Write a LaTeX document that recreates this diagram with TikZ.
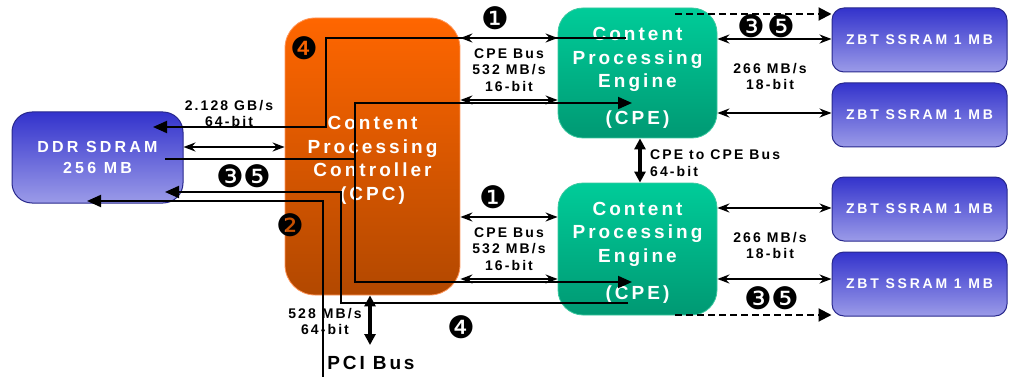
\documentclass[tikz,border=0pt]{standalone}
\usepackage{fontspec}
\setmainfont{Liberation Sans}
\newfontfamily\lsf[LetterSpace=20]{Liberation Sans}
\newfontfamily\lsb[LetterSpace=16]{Liberation Sans}
\newfontfamily\lsl[LetterSpace=15]{Liberation Sans}
\newfontfamily\dingf{DejaVu Sans}
\usetikzlibrary{arrows.meta}
\definecolor{ddrtop}{RGB}{51,51,204}
\definecolor{ddrbot}{RGB}{155,155,232}
\definecolor{cpctop}{RGB}{255,102,0}
\definecolor{cpcbot}{RGB}{178,72,0}
\definecolor{cpcedge}{RGB}{255,150,90}
\definecolor{cpetop}{RGB}{0,204,153}
\definecolor{cpebot}{RGB}{0,153,115}
\definecolor{cpeedge}{RGB}{60,200,160}
\definecolor{navyedge}{RGB}{40,40,140}
\begin{document}
\begin{tikzpicture}[x=1pt,y=-1pt,
  box/.style={rounded corners=#1, inner sep=0pt, align=center, text=white},
  membox/.style={box=#1, top color=ddrtop, bottom color=ddrbot, draw=navyedge, line width=1pt},
  ddrbox/.style={membox=20pt, minimum width=171pt, minimum height=91pt,
    font=\lsf\bfseries\fontsize{16}{21}\selectfont},
  zbtbox/.style={membox=12pt, minimum width=175pt, minimum height=64pt,
    font=\lsf\bfseries\fontsize{14}{16}\selectfont},
  cpcbox/.style={box=30pt, top color=cpctop, bottom color=cpcbot, draw=cpcedge, line width=0.8pt,
    minimum width=175pt, minimum height=277pt},
  cpebox/.style={box=25pt, top color=cpetop, bottom color=cpebot, draw=cpeedge, line width=0.8pt,
    minimum width=159pt},
  boxtext/.style={inner sep=0pt, align=center, text=white, font=\lsb\bfseries\fontsize{19}{23.5}\selectfont},
  lab/.style={inner sep=0pt, align=center, font=\lsl\bfseries\fontsize{14}{16.8}\selectfont},
  num/.style={inner sep=0pt, font=\dingf\fontsize{31}{31}\selectfont},
  sline/.style={line width=1.9pt, -{Triangle[length=14pt,width=12pt]}},
  dbl/.style={line width=2.2pt, {Stealth[length=12pt,width=9pt,inset=4pt]}-{Stealth[length=12pt,width=9pt,inset=4pt]}},
  fatdbl/.style={line width=4pt, {Triangle[length=11pt,width=11pt]}-{Triangle[length=11pt,width=11pt]}},
  dashline/.style={line width=2pt, dash pattern=on 7pt off 4pt, -{Triangle[length=13pt,width=13pt]}}
]
\useasboundingbox (0,0) rectangle (1012,377);

% boxes
\node[ddrbox] (ddr) at (97.5,157.5) {DDR SDRAM\\256 MB};
\node[cpcbox] (cpc) at (372.5,156.5) {};
\node[cpebox, minimum height=130pt] (cpe1) at (637.5,73) {};
\node[cpebox, minimum height=132pt] (cpe2) at (637.5,249) {};
\node[boxtext] (cpct) at ([yshift=-4pt]cpc.center) {Content\\Processing\\Controller\\(CPC)};
\node[boxtext] (cpe1t) at ([yshift=-5pt]cpe1.center) {Content\\Processing\\Engine\\[13.5pt](CPE)};
\node[boxtext] (cpe2t) at ([yshift=-3.5pt]cpe2.center) {Content\\Processing\\Engine\\[13.5pt](CPE)};
\node[zbtbox] (zbt1) at (919.5,40) {ZBT SSRAM 1 MB};
\node[zbtbox] (zbt2) at (919.5,115) {ZBT SSRAM 1 MB};
\node[zbtbox] (zbt3) at (919.5,209) {ZBT SSRAM 1 MB};
\node[zbtbox] (zbt4) at (919.5,284) {ZBT SSRAM 1 MB};

% end points inside boxes
\coordinate (pA) at (626,38);
\coordinate (tA) at (153,127);
\coordinate (pB) at (165,159);
\coordinate (tB1) at (632,103);
\coordinate (tB2) at (632,282);
\coordinate (pC) at (628,303);
\coordinate (tC) at (165,192);
\coordinate (pD) at (323,377);
\coordinate (tD) at (87,201);
\coordinate (pI1) at (675,14);
\coordinate (pI2) at (675,315);
\coordinate (pciend) at (370,345);

% bus arrows
\draw[dbl] (ddr.east |- 0,147) -- (cpc.west |- 0,147);
\draw[dbl] (cpc.east |- 0,38) -- (cpe1.west |- 0,38);
\draw[dbl] (cpc.east |- 0,100) -- (cpe1.west |- 0,100);
\draw[dbl] (cpc.east |- 0,217) -- (cpe2.west |- 0,217);
\draw[dbl] (cpc.east |- 0,279) -- (cpe2.west |- 0,279);
\draw[dbl] (cpe1.east |- 0,39) -- (zbt1.west |- 0,39);
\draw[dbl] (cpe1.east |- 0,113) -- (zbt2.west |- 0,113);
\draw[dbl] (cpe2.east |- 0,208) -- (zbt3.west |- 0,208);
\draw[dbl] (cpe2.east |- 0,279) -- (zbt4.west |- 0,279);
\draw[fatdbl] (cpe1.south -| 640,0) -- (cpe2.north -| 640,0);
\draw[fatdbl] (cpc.south -| 370,0) -- (pciend);

% data flow paths
\draw[sline] (pA) -- (326,38) |- (tA);
\draw[sline] (pB) -| (355,103) -- (tB1);
\draw[sline] (355,159) |- (tB2);
\draw[sline] (pC) -| (341,192) -- (tC);
\draw[sline] (pD) |- (tD);
\draw[dashline] (pI1) -- (zbt1.west |- 0,14);
\draw[dashline] (pI2) -- (zbt4.west |- 0,315);

% labels
\node[lab] (l1) at (229,113.5) {2.128 GB/s\\64-bit};
\node[lab] (l2) at (509,70) {CPE Bus\\532 MB/s\\16-bit};
\node[lab] (l3) at (509,249) {CPE Bus\\532 MB/s\\16-bit};
\node[lab] (l4) at (770,76.5) {266 MB/s\\18-bit};
\node[lab] (l5) at (770,245.5) {266 MB/s\\18-bit};
\node[lab, anchor=west, align=left] (l6) at (650,163) {CPE to CPE Bus\\64-bit};
\node[lab] (l7) at (325,321.5) {528 MB/s\\64-bit};
\node[lab, font=\lsl\bfseries\fontsize{19}{22}\selectfont] (pci) at (371,363) {PCI Bus};

% step numbers
\node[num] (n1a) at (495,18) {❶};
\node[num] (n1b) at (493,197) {❶};
\node[num] (n4a) at (304,48) {❹};
\node[num] (n4b) at (461,327) {❹};
\node[num] (n2) at (290,225) {❷};
\node[num] (n3a) at (230,176) {❸};
\node[num] (n5a) at (257,176) {❺};
\node[num] (n3b) at (751,26) {❸};
\node[num] (n5b) at (781,26) {❺};
\node[num] (n3c) at (758,298) {❸};
\node[num] (n5c) at (785,298) {❺};
\end{tikzpicture}
\end{document}
